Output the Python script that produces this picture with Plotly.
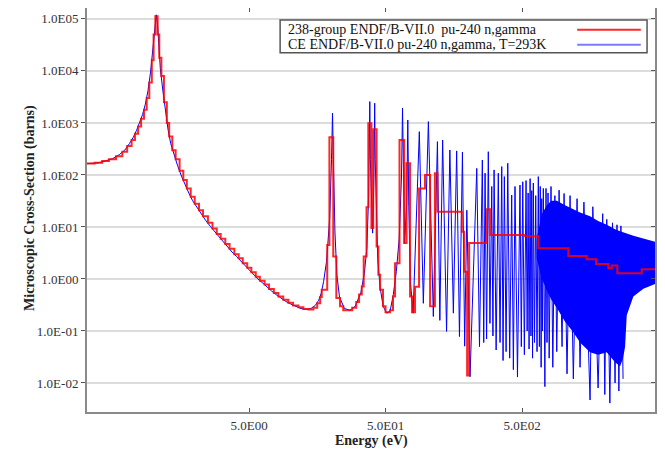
import plotly.graph_objects as go

# 238-group ENDF/B-VII.0 pu-240 n,gamma (group lower bound in eV, barns)
group_e = [0.325, 0.37, 0.42, 0.47, 0.53, 0.59, 0.64, 0.69, 0.73, 0.77,
           0.81, 0.85, 0.89, 0.93, 0.97, 1.00, 1.03, 1.07, 1.10, 1.14,
           1.19, 1.25, 1.30, 1.37, 1.45, 1.55, 1.65, 1.75, 1.87, 2.0,
           2.15, 2.3, 2.5, 2.7, 2.9, 3.1, 3.35, 3.6, 3.9, 4.2,
           4.5, 4.85, 5.2, 5.6, 6.0, 6.5, 7.0, 7.6, 8.2, 8.9,
           9.7, 10.5, 11.5, 12.5, 13.6, 14.8, 15.8, 16.6, 17.05, 18.7,
           19.4, 20.7, 21.8, 23.2, 24.5, 28.5, 30.5, 32.0, 33.5, 34.6,
           36.3, 37.4, 39.4, 40.6, 43.0, 44.3, 45.6, 47.9, 50.0, 53.9,
           56.7, 58.7, 63.3, 68.4, 71.3, 75.6, 78.2, 82.2, 88.0, 97.3,
           106, 115, 120, 181, 188, 198, 205, 276, 292, 526,
           658, 1092, 1489, 1742, 2144, 2271, 2495, 3766, 4710]
group_xs = [166, 172, 185, 200, 230, 280, 360, 470, 620, 850,
            1200, 1800, 3000, 6000, 16000, 50000, 112000, 50000, 18000, 8000,
            2500, 1000, 550, 300, 200, 120, 80, 55, 38, 28,
            21, 16, 12, 9.3, 7.3, 5.9, 4.7, 3.8, 3.0, 2.5,
            2.0, 1.65, 1.35, 1.1, 0.92, 0.78, 0.64, 0.54, 0.46, 0.40,
            0.35, 0.31, 0.285, 0.265, 0.26, 0.28, 0.34, 0.45, 0.62, 4.5,
            530, 2.7, 0.43, 0.30, 0.25, 0.28, 0.36, 0.5, 0.72, 2.7,
            24, 986, 9.5, 755, 4.2, 1.2, 0.62, 0.3, 0.23, 0.25,
            0.46, 2.0, 471, 4.9, 168, 0.46, 0.23, 0.71, 55, 100,
            0.3, 108, 19.7, 8.1, 1.38, 0.014, 4.9, 22, 7.0, 6.6,
            3.9, 2.77, 2.4, 1.94, 1.61, 1.82, 1.29, 1.53, 1.53]

# CE ENDF/B-VII.0 pointwise curve (eV, barns)
ce_e = [0.325, 0.39, 0.445, 0.5, 0.56, 0.615, 0.665, 0.71, 0.75, 0.79,
        0.83, 0.87, 0.91, 0.95, 0.985, 1.02, 1.045, 1.07, 1.09, 1.12,
        1.165, 1.22, 1.275, 1.335, 1.41, 1.5, 1.6, 1.7, 1.81, 1.93,
        2.07, 2.22, 2.4, 2.6, 2.8, 3.0, 3.22, 3.47, 3.75, 4.05,
        4.35, 4.67, 5.02, 5.4, 5.8, 6.25, 6.75, 7.3, 7.9, 8.55,
        9.3, 10.1, 11.0, 12.0, 13.0, 14.2, 15.3, 16.2, 16.9, 17.6,
        18.5, 19.5, 20.1, 20.45, 20.8, 21.3, 22, 23, 25, 27.5,
        30, 33, 35, 36.5, 37.6, 38.1, 38.35, 38.7, 39.4, 40.2,
        41.0, 41.4, 41.65, 42.0, 42.8, 43.8, 45.6, 48, 51, 54,
        57, 60, 63, 65.5, 66.6, 67.6, 69, 71.5, 72.8, 74,
        76, 79.6, 88.4, 94.6, 103, 112, 120, 125, 131, 140,
        148, 157, 166, 174, 183, 190, 197, 208, 233, 244,
        256, 262, 268, 275, 283, 291, 300, 306, 312, 323,
        335, 345, 355, 363, 371, 382, 393, 406, 420, 432,
        444, 463, 483, 494, 506, 520, 535, 545, 554, 563,
        573, 581, 589, 597, 605, 617, 630, 644, 658, 670,
        680, 690, 697, 706, 716, 735, 749, 762, 775, 790,
        815, 840, 870, 898, 934, 982, 1016, 1068, 1124, 1188,
        1265, 1330, 1420, 1575, 1650, 1803, 1950, 2020, 2087, 2200,
        2300, 2401, 2480, 2560, 2650, 2748]
ce_xs = [165, 170, 186, 205, 245, 300, 400, 530, 720, 1000,
         1450, 2300, 4200, 9500, 28000, 70000, 120000, 75000, 30000, 11000,
         4500, 1700, 750, 400, 240, 150, 95, 65, 45, 32,
         24, 18, 13.5, 10.3, 8.1, 6.5, 5.2, 4.2, 3.3, 2.7,
         2.2, 1.8, 1.5, 1.22, 1.0, 0.85, 0.7, 0.59, 0.5, 0.43,
         0.37, 0.33, 0.295, 0.27, 0.26, 0.27, 0.31, 0.39, 0.53, 0.9,
         2.2, 15, 200, 1540, 150, 8, 1.2, 0.45, 0.27, 0.25,
         0.3, 0.55, 1.3, 4, 40, 400, 2570, 200, 20, 7.6,
         60, 600, 2400, 200, 12, 2.5, 0.7, 0.3, 0.22, 0.24,
         0.5, 1.4, 6, 100, 1920, 40, 4.9, 30, 1140, 25,
         0.9, 0.22, 680, 0.34, 1060, 0.19, 437, 0.16, 470, 0.098,
         302, 0.22, 290, 0.078, 275, 0.051, 21, 0.0132, 134, 0.05,
         194, 0.06, 108, 0.07, 280, 0.14, 60, 0.08, 125, 0.043,
         108, 0.06, 145, 0.027, 93, 0.04, 168, 0.03, 41, 0.018,
         60, 0.013, 64, 0.05, 74, 0.035, 78, 0.1, 45, 0.045,
         85, 0.08, 50, 0.03, 70, 0.06, 40, 0.04, 93, 0.05,
         60, 0.02, 35, 0.1, 55, 0.0085, 55, 0.06, 45, 0.03,
         60, 0.02, 40, 0.04, 51, 0.05, 44, 0.015, 40, 0.012,
         35, 0.02, 30, 0.0047, 24.5, 0.008, 18, 0.006, 14, 0.0041,
         12, 0.01, 11, 0.007, 10.5, 0.012, 10]

# envelope of the dense resonance band
band_e = [640, 700, 760, 820, 898, 1033, 1188, 1330, 1575, 1803,
          2087, 2401, 2612, 2748, 2843, 2924, 3269, 3869, 4710]
band_top = [6, 18, 26, 32, 32, 26, 22, 19, 16, 13,
            11, 9, 8.3, 8, 7.7, 7.5, 6.8, 6.0, 5.2]
band_bottom = [2.5, 1.0, 0.6, 0.4, 0.28, 0.15, 0.095, 0.06, 0.039, 0.035,
               0.039, 0.025, 0.021, 0.03, 0.05, 0.2, 0.46, 0.65, 0.8]

legend_names = ["238-group ENDF/B-VII.0  pu-240 n,gamma",
                "CE ENDF/B-VII.0 pu-240 n,gamma, T=293K"]

y_ticks = [1e-2, 1e-1, 1e0, 1e1, 1e2, 1e3, 1e4, 1e5]
y_labels = ["1.0E-02", "1.0E-01", "1.0E00", "1.0E01",
            "1.0E02", "1.0E03", "1.0E04", "1.0E05"]
x_ticks = [5, 50, 500]
x_labels = ["5.0E00", "5.0E01", "5.0E02"]

font = "Liberation Serif"
blue = "#0000ff"
red = "rgba(255,0,0,0.85)"

fig = go.Figure()

# dense band (filled envelope)
fig.add_trace(go.Scatter(x=band_e + band_e[::-1], y=band_top + band_bottom[::-1],
                         fill="toself", fillcolor=blue, mode="lines",
                         line=dict(width=0), hoverinfo="skip", showlegend=False))

fig.add_trace(go.Scatter(x=ce_e, y=ce_xs, mode="lines",
                         line=dict(color=blue, width=1), name=legend_names[1],
                         showlegend=False))

fig.add_trace(go.Scatter(x=group_e, y=group_xs, mode="lines", line_shape="hv",
                         line=dict(color=red, width=2), name=legend_names[0],
                         showlegend=False))

# invisible trace on overlay axes so the right/top ticks show up
fig.add_trace(go.Scatter(x=[1], y=[1], xaxis="x2", yaxis="y2", mode="markers",
                         marker=dict(opacity=0), showlegend=False, hoverinfo="skip"))

x_range = [-0.488, 3.673]
y_range = [-2.558, 5.21]

# page body has an 8px margin, so the figure is drawn 8px smaller
fig.update_layout(
    width=657, height=443,
    margin=dict(l=79, r=10, t=0, b=39),
    paper_bgcolor="white", plot_bgcolor="white",
    font=dict(family=font, color="#222222"),
    showlegend=False,
    xaxis=dict(type="log", range=x_range, tickvals=x_ticks, ticktext=x_labels,
               ticks="inside", ticklen=4, tickcolor="#555555",
               showline=True, linecolor="#8a8a8a", linewidth=2,
               showgrid=False, zeroline=False,
               tickfont=dict(family=font, size=13, color="#333333")),
    xaxis2=dict(type="log", range=x_range, overlaying="x", side="top",
                tickvals=x_ticks, showticklabels=False, ticks="inside",
                ticklen=4, tickcolor="#555555", showline=True,
                linecolor="#8a8a8a", linewidth=2, showgrid=False, zeroline=False),
    yaxis=dict(type="log", range=y_range, tickvals=y_ticks, ticktext=y_labels,
               ticks="outside", ticklen=4, tickcolor="#555555",
               showline=True, linecolor="#8a8a8a", linewidth=2,
               showgrid=True, gridcolor="#dcdcdc", gridwidth=2, zeroline=False,
               tickfont=dict(family=font, size=13, color="#333333")),
    yaxis2=dict(type="log", range=y_range, overlaying="y", side="right",
                tickvals=y_ticks, showticklabels=False, ticks="inside",
                ticklen=4, tickcolor="#555555", showline=True,
                linecolor="#8a8a8a", linewidth=2, showgrid=False, zeroline=False),
)

# axis titles
fig.add_annotation(text="<b>Energy (eV)</b>", xref="paper", yref="paper",
                   x=0.5, y=-0.072, showarrow=False, yanchor="middle",
                   font=dict(family=font, size=14, color="#222222"))
fig.add_annotation(text="<b>Microscopic Cross-Section (barns)</b>", xref="paper",
                   yref="paper", x=-0.118, y=0.505, textangle=-90, showarrow=False,
                   font=dict(family=font, size=14, color="#222222"))

# hand made legend: text left, line sample right
fig.add_shape(type="rect", xref="paper", yref="paper", x0=0.340, x1=0.986,
              y0=0.889, y1=0.970, line=dict(color="#555555", width=1.5),
              fillcolor="white", layer="above")
for i, (nm, col) in enumerate(zip(legend_names, [red, "rgba(90,90,255,0.8)"])):
    yy = 0.946 - i * 0.037
    fig.add_annotation(text=nm, xref="paper", yref="paper", x=0.350, y=yy,
                       xanchor="left", yanchor="middle", showarrow=False,
                       font=dict(family=font, size=14, color="#111111"))
    fig.add_shape(type="line", xref="paper", yref="paper", x0=0.863, x1=0.975,
                  y0=yy, y1=yy, line=dict(color=col, width=2), layer="above")

fig.write_html("out.html")
